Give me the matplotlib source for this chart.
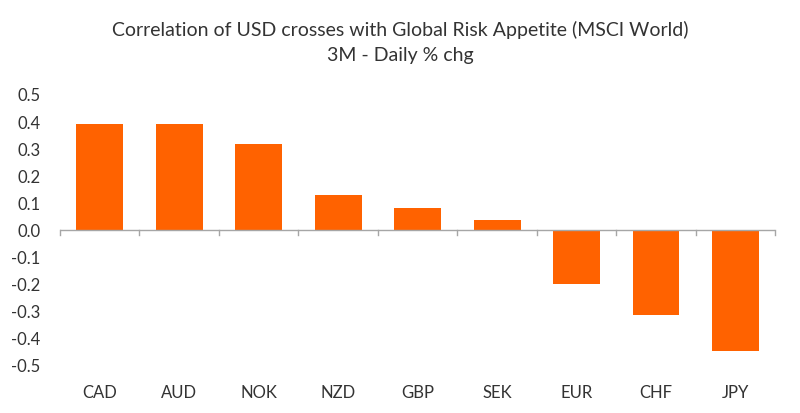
import matplotlib
matplotlib.use("Agg")
import matplotlib.pyplot as plt

# currency crosses and their correlation with MSCI World (3M, daily % chg)
currencies = ["CAD", "AUD", "NOK", "NZD", "GBP", "SEK", "EUR", "CHF", "JPY"]
correlation = [0.394, 0.392, 0.320, 0.129, 0.082, 0.036, -0.199, -0.316, -0.446]
y_ticks = [0.5, 0.4, 0.3, 0.2, 0.1, 0.0, -0.1, -0.2, -0.3, -0.4, -0.5]

title = "Correlation of USD crosses with Global Risk Appetite (MSCI World)\n3M - Daily % chg"

bar_color = "#FF6200"
text_color = "#333333"
axis_color = "#A6A6A6"

plt.rcParams["font.family"] = ["Lato", "DejaVu Sans"]

fig = plt.figure(figsize=(8, 4.13), dpi=100)
ax = fig.add_axes([0.075, 0.116, 0.894, 0.654])

x = list(range(len(currencies)))
ax.bar(x, correlation, width=0.59, color=bar_color, zorder=2)

ax.set_xlim(-0.5, len(currencies) - 0.5)
ax.set_ylim(-0.5, 0.5)
ax.set_yticks(y_ticks)
ax.set_yticklabels([f"{v:.1f}" for v in y_ticks], fontsize=12, color=text_color)
ax.tick_params(axis="y", length=0, pad=14)

# horizontal zero line with tick marks between categories
ax.axhline(0, color=axis_color, linewidth=1, zorder=3)
for b in [i - 0.5 for i in range(len(currencies) + 1)]:
    ax.plot([b, b], [0, -0.018], color=axis_color, linewidth=1, zorder=3, clip_on=False)

ax.set_xticks(x)
ax.set_xticklabels(currencies, fontsize=12, color=text_color)
ax.tick_params(axis="x", length=0, pad=14)

for s in ax.spines.values():
    s.set_visible(False)

fig.text(0.5, 0.95, title, ha="center", va="top", fontsize=14,
         color=text_color, linespacing=1.6)

fig.savefig("out.png", dpi=100, facecolor="white")
